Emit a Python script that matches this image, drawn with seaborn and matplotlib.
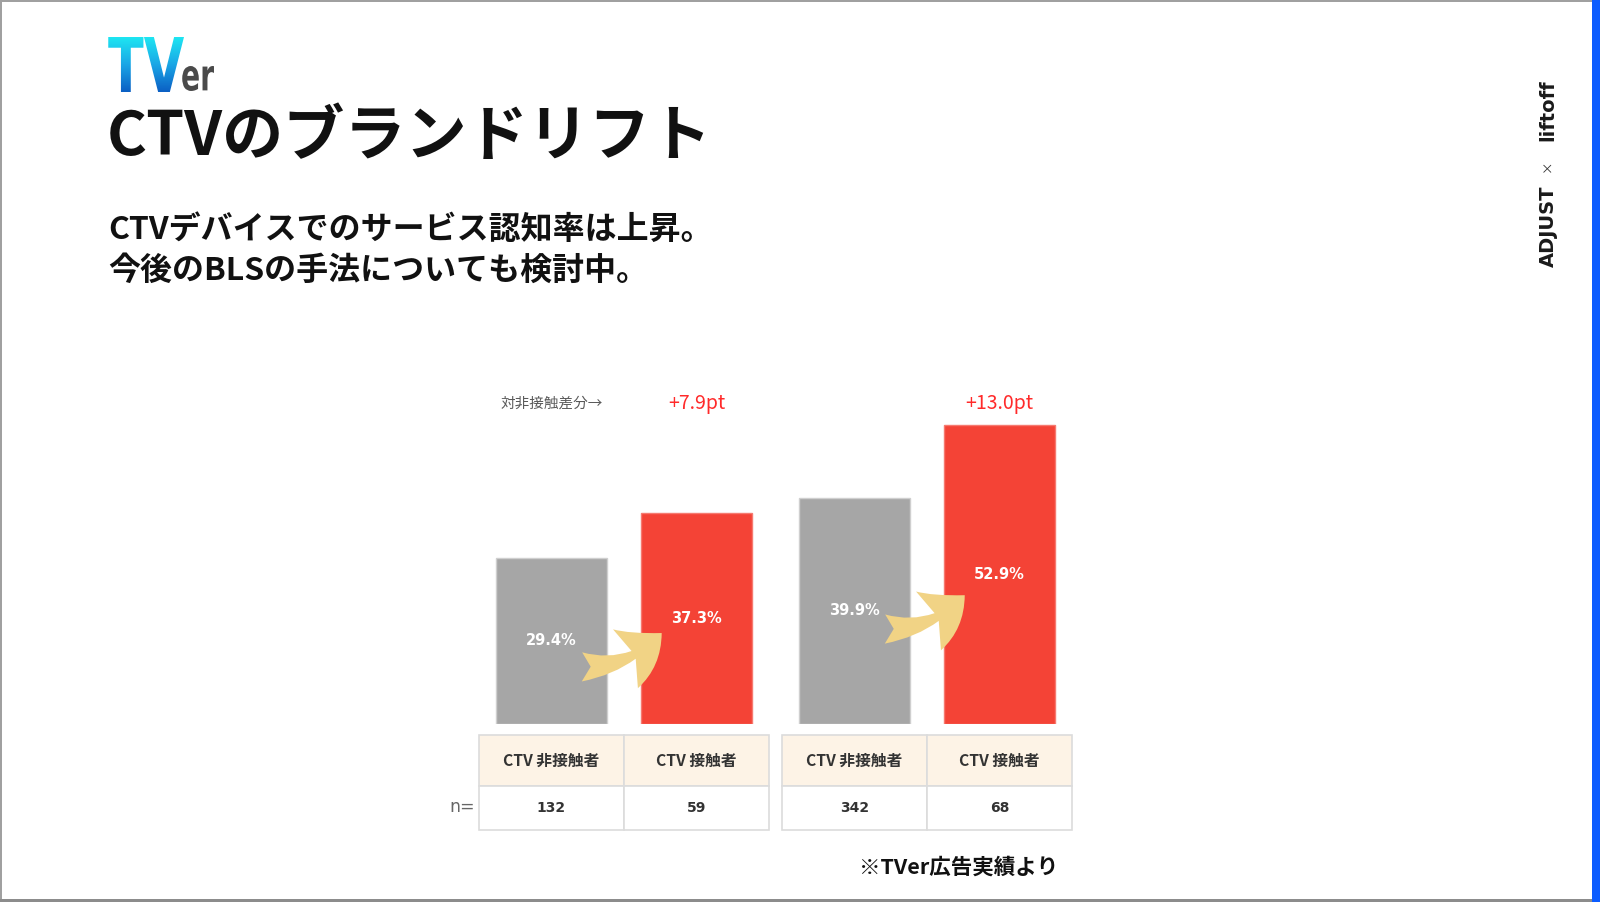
import numpy as np
import pandas as pd
import matplotlib
matplotlib.use("Agg")
import matplotlib.pyplot as plt
import seaborn as sns
import matplotlib.transforms as mtransforms
from matplotlib.patches import Rectangle, FancyArrowPatch, ArrowStyle, PathPatch
from matplotlib.textpath import TextPath
from matplotlib.font_manager import FontProperties
from matplotlib.colors import LinearSegmentedColormap, to_hex

# ---------------- data ----------------
categories = ["CTV 非接触者", "CTV 接触者", "CTV 非接触者", "CTV 接触者"]
kinds = ["非接触", "接触", "非接触", "接触"]
group_idx = [0, 0, 1, 1]
rates = [29.4, 37.3, 39.9, 52.9]
sample_n = [132, 59, 342, 68]
lift_labels = ["+7.9pt", "+13.0pt"]

title = "CTVのブランドリフト"
subtitle = ["CTVデバイスでのサービス認知率は上昇。", "今後のBLSの手法についても検討中。"]
diff_label = "対非接触差分→"
footnote = "※TVer広告実績より"

# ---------------- style ----------------
sns.set_theme(style="white")
JP = ["Noto Sans CJK JP", "DejaVu Sans"]
plt.rcParams["font.family"] = JP

GRAY = "#a6a6a6"
RED = "#f44336"
ARROW = "#f1d385"
W, H = 1600, 902

fig = plt.figure(figsize=(16, 9.02), dpi=100, facecolor="white")

# overlay axes in pixel coordinates (y downward)
ov = fig.add_axes([0, 0, 1, 1], zorder=-1)
ov.set_xlim(0, W)
ov.set_ylim(H, 0)
ov.axis("off")

# frame
ov.add_patch(Rectangle((0, 0), 2, H, color="#a0a0a0", lw=0))
ov.add_patch(Rectangle((0, 0), W, 2, color="#a0a0a0", lw=0))
ov.add_patch(Rectangle((0, H - 3), W, 3, color="#8c8c8c", lw=0))
ov.add_patch(Rectangle((1592, 0), 8, H, color="#0b5cff", lw=0))

# ---------------- bars ----------------
GROUP_GAP = 2.09
within = [0, 1, 0, 1]
pos = [g * GROUP_GAP + w for g, w in zip(group_idx, within)]
df = pd.DataFrame({"pos": pos, "rate": rates, "kind": kinds, "cat": categories})

px0, unit = 551.5, 145.0            # pixel centre of first bar, pixels per x unit
base_px, ppv = 723.5, 5.64          # baseline pixel, pixels per percentage point
left_px, right_px = 480, 1073
ymax = 60
ax = fig.add_axes([left_px / W, (H - base_px) / H, (right_px - left_px) / W, ymax * ppv / H])
sns.barplot(data=df, x="pos", y="rate", hue="kind", native_scale=True, dodge=False,
            palette={"非接触": GRAY, "接触": RED}, width=0.766, legend=False,
            saturation=1, ax=ax, errorbar=None)
for p in ax.patches:
    is_gray = to_hex(p.get_facecolor()) == GRAY
    p.set_edgecolor("#cfcfcf" if is_gray else "#f67a70")
    p.set_linewidth(1)
ax.set_xlim((left_px - px0) / unit, (right_px - px0) / unit)
ax.set_ylim(0, ymax)
ax.axis("off")

for x, v in zip(pos, rates):
    ax.text(x, v / 2, f"{v}%", ha="center", va="center", color="white",
            fontsize=10.5, fontweight="bold", family="DejaVu Sans")

# curved arrows from gray to red bar
for g in range(2):
    red_v = rates[2 * g + 1]
    xs = g * GROUP_GAP
    tip = (xs + 0.76, 0.43 * red_v)
    tail = (xs + 0.21, 0.43 * red_v - 6.0)
    arr = FancyArrowPatch(tail, tip, connectionstyle="arc3,rad=0.22",
                          arrowstyle=ArrowStyle.Fancy(head_length=32, head_width=46, tail_width=21),
                          mutation_scale=1, color=ARROW, lw=0, shrinkA=0, shrinkB=0, zorder=5)
    ax.add_patch(arr)

# labels above bars (x in data, y in pixels)
blend = mtransforms.blended_transform_factory(ax.transData, ov.transData)
for g, lab in enumerate(lift_labels):
    ax.text(pos[2 * g + 1], 403, lab, transform=blend, ha="center", va="center",
            color="#ff2a2a", fontsize=14)
ax.text(pos[0], 404, diff_label, transform=blend, ha="center", va="center",
        color="#595959", fontsize=10.5)

# ---------------- table ----------------
t_top, t_bot = 733, 832
axt = fig.add_axes([left_px / W, (H - t_bot) / H, (right_px - left_px) / W, (t_bot - t_top) / H])
axt.set_xlim(ax.get_xlim())
axt.set_ylim(t_bot, t_top)
axt.axis("off")
hdr_y0, hdr_y1, dat_y1 = 735, 786, 830
for x, cat, n in zip(pos, categories, sample_n):
    axt.add_patch(Rectangle((x - 0.5, hdr_y0), 1, hdr_y1 - hdr_y0, fc="#fdf3e6",
                            ec="#dcdcdc", lw=1.2, clip_on=False))
    axt.add_patch(Rectangle((x - 0.5, hdr_y1), 1, dat_y1 - hdr_y1, fc="white",
                            ec="#dcdcdc", lw=1.2, clip_on=False))
    axt.text(x, (hdr_y0 + hdr_y1) / 2, cat, ha="center", va="center", fontsize=11.3,
             fontweight="bold", color="#333333")
    axt.text(x, (hdr_y1 + dat_y1) / 2, str(n), ha="center", va="center", fontsize=10,
             fontweight="bold", color="#333333", family="DejaVu Sans")
ov.text(475, 807, "n=", ha="right", va="center", fontsize=12.5, color="#666666",
        family="DejaVu Sans")

# ---------------- texts ----------------
ov.text(107, 137, title, ha="left", va="center", fontsize=44, fontweight="bold", color="#111111")
ov.text(108, 230, subtitle[0], ha="left", va="center", fontsize=23, fontweight="bold", color="#111111")
ov.text(108, 271, subtitle[1], ha="left", va="center", fontsize=23, fontweight="bold", color="#111111")
ov.text(959, 867, footnote, ha="center", va="center", fontsize=15.5, fontweight="bold", color="#111111")

# right vertical logo
ov.text(1548, 226, "ADJUST", rotation=90, ha="center", va="center", fontsize=14,
        fontweight="bold", family="DejaVu Sans", color="#1a1a1a")
ov.text(1548, 166, "×", rotation=90, ha="center", va="center", fontsize=9, color="#333333")
ov.text(1548, 110, "liftoff", rotation=90, ha="center", va="center", fontsize=14,
        fontweight="bold", family="DejaVu Sans", color="#1a1a1a")

# TVer logo
def fit_path(text, box):
    tp = TextPath((0, 0), text, size=100, prop=FontProperties(family="DejaVu Sans", weight="bold"))
    v = tp.vertices
    x0, x1 = v[:, 0].min(), v[:, 0].max()
    y0, y1 = v[:, 1].min(), v[:, 1].max()
    bx0, by0, bx1, by1 = box
    tr = mtransforms.Affine2D().translate(-x0, -y1).scale((bx1 - bx0) / (x1 - x0),
                                                          -(by1 - by0) / (y1 - y0)).translate(bx0, by0)
    return tr.transform_path(tp)

tv_box = (108, 37, 184, 92)
tv_path = fit_path("TV", tv_box)
clip = PathPatch(tv_path, transform=ov.transData, fc="none", lw=0)
ov.add_patch(clip)
grad = np.linspace(0, 1, 256).reshape(-1, 1)
cmap = LinearSegmentedColormap.from_list("tver", ["#1ee6f2", "#1aa6e6", "#0b5fc4"])
im = ov.imshow(grad, extent=(tv_box[0], tv_box[2], tv_box[3], tv_box[1]), cmap=cmap,
               aspect="auto", origin="upper", zorder=3)
im.set_clip_path(clip)
er_path = fit_path("er", (181, 66, 214, 91))
ov.add_patch(PathPatch(er_path, fc="#4a4a4a", lw=0, zorder=3))
ov.set_xlim(0, W)
ov.set_ylim(H, 0)

fig.savefig("out.png", dpi=100, facecolor="white")
